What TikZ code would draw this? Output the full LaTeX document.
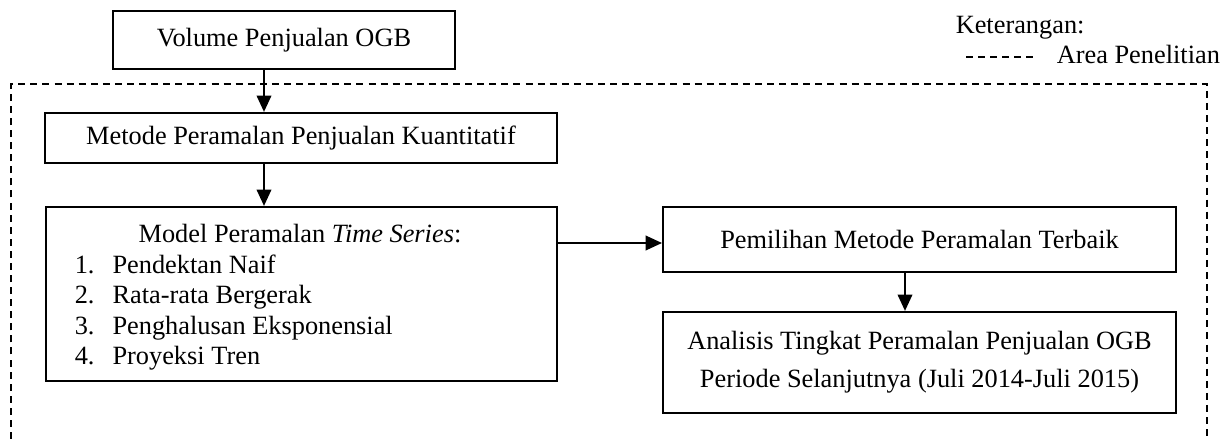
\documentclass[tikz,border=0pt]{standalone}
\usepackage{fontspec}
\setmainfont{Liberation Serif}
\usetikzlibrary{arrows.meta}
\tikzset{
  kotak/.style={draw, line width=0.9pt, inner sep=0pt, align=center},
  panah/.style={-{Triangle[length=7.5pt,width=6.5pt]}, line width=1.3pt},
  area/.style={dash pattern=on 3.2pt off 2.3pt, line width=0.75pt},
}
\newcommand{\nomor}[1]{\makebox[17.2pt][l]{#1}}
\begin{document}
\begin{tikzpicture}[x=0.016cm, y=-0.016cm, font=\fontsize{12pt}{13.8pt}\selectfont]
\useasboundingbox (0,0) rectangle (1225,439);
% area penelitian
\draw[area] (11,439) -- (11,84) -- (1207,84) -- (1207,439);
\node[anchor=base west] (ket) at (948,33) {Keterangan:};
\draw[area] (966,57) -- (1033,57);
\node[anchor=base west] (areapen) at (1049,63) {Area Penelitian};
% kotak
\node[kotak, minimum width=5.472cm, minimum height=0.928cm] (volume) at (284,40) {Volume Penjualan OGB};
\node[kotak, minimum width=8.192cm, minimum height=0.8cm] (metode) at (301,138) {Metode Peramalan Penjualan Kuantitatif};
\node[kotak, minimum width=8.176cm, minimum height=2.784cm] (model) at (301.5,294) {};
\node[anchor=base] (judul) at (300,242) {Model Peramalan \textit{Time Series}:};
\node[anchor=base west] (m1) at (67,273) {\nomor{1.}Pendektan Naif};
\node[anchor=base west] (m2) at (67,303.5) {\nomor{2.}Rata-rata Bergerak};
\node[anchor=base west] (m3) at (67,334) {\nomor{3.}Penghalusan Eksponensial};
\node[anchor=base west] (m4) at (67,364.5) {\nomor{4.}Proyeksi Tren};
\node[kotak, minimum width=8.208cm, minimum height=1.04cm] (pilih) at (919.5,239.5) {Pemilihan Metode Peramalan Terbaik};
\node[kotak, minimum width=8.208cm, minimum height=1.616cm] (analisis) at (919.5,362.5) {Analisis Tingkat Peramalan Penjualan OGB\\[3.4pt] Periode Selanjutnya (Juli 2014-Juli 2015)};
% panah
\coordinate (p1) at (264,0);
\coordinate (p2) at (0,243);
\coordinate (p3) at (905,0);
\draw[panah] (volume.south -| p1) -- (metode.north -| p1);
\draw[panah] (metode.south -| p1) -- (model.north -| p1);
\draw[panah] (model.east |- p2) -- (pilih.west |- p2);
\draw[panah] (pilih.south -| p3) -- (analisis.north -| p3);
\end{tikzpicture}
\end{document}
